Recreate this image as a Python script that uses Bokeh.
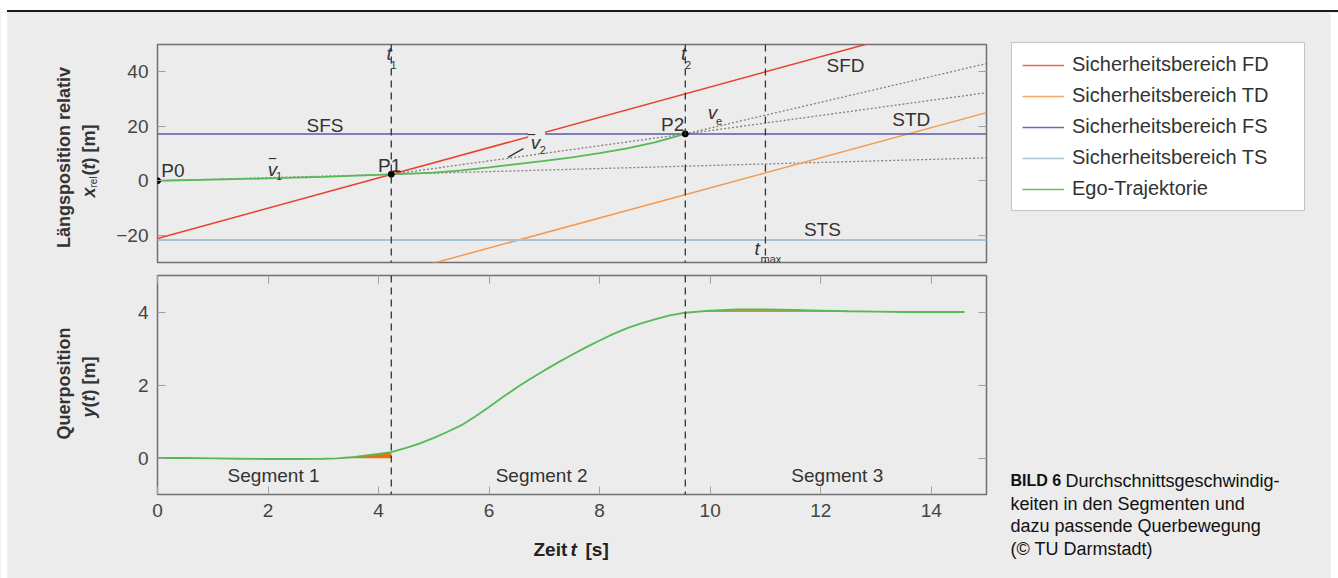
import math
from bokeh.plotting import figure
from bokeh.models import Label, Span, Legend, LegendItem, LinearAxis, FixedTicker, Range1d, Div
from bokeh.layouts import column, row
from bokeh.embed import file_html
from bokeh.resources import INLINE

# ---------------- data ----------------
t_bounds = [0, 15]
fd_x = [-21.2, 62.2]          # Sicherheitsbereich FD
td_x = [-57.8, 25.0]          # Sicherheitsbereich TD
fs_x = [17.2, 17.2]           # Sicherheitsbereich FS
ts_x = [-21.7, -21.7]         # Sicherheitsbereich TS

ego_t = [0, 1, 2, 3, 4.23, 5, 5.5, 6, 6.5, 7, 7.5, 8, 8.5, 9, 9.55]
ego_x = [0, 0.4, 0.85, 1.45, 2.37, 3.0, 3.8, 4.9, 6.1, 7.3, 8.6, 10.1, 11.9, 14.1, 17.2]

pts_t = [0, 4.23, 9.55]
pts_x = [0, 2.37, 17.2]

v1_t = [0, 15];     v1_x = [0, 8.4]
v2_t = [4.23, 15];  v2_x = [2.37, 32.3]
ve_t = [9.55, 15];  ve_x = [17.2, 43.0]

t1, t2, tmax = 4.23, 9.55, 11.0

lat_t = [0, 0.5, 1, 1.5, 2, 2.5, 3, 3.25, 3.5, 3.75, 4, 4.23, 4.5, 4.75, 5, 5.25, 5.5, 5.75, 6, 6.25,
         6.5, 6.75, 7, 7.25, 7.5, 7.75, 8, 8.25, 8.5, 8.75, 9, 9.25, 9.55,
         10, 10.5, 11, 11.5, 12, 12.5, 13, 13.5, 14, 14.6]
lat_y = [0, 0, -0.01, -0.02, -0.03, -0.03, -0.02, -0.01, 0.02, 0.065, 0.11, 0.16, 0.28, 0.4, 0.55, 0.72,
         0.9, 1.14, 1.4, 1.67, 1.93, 2.17, 2.4, 2.62, 2.83, 3.03, 3.22, 3.4, 3.56, 3.69,
         3.8, 3.9, 3.98, 4.04, 4.07, 4.07, 4.06, 4.04, 4.02, 4.01, 4.0, 4.0, 4.0]
lat_target = 4.0

x_ticks = [0, 2, 4, 6, 8, 10, 12, 14]
y_ticks_top = [-20, 0, 20, 40]
y_ticks_bot = [0, 2, 4]

legend_labels = ["Sicherheitsbereich FD", "Sicherheitsbereich TD", "Sicherheitsbereich FS",
                 "Sicherheitsbereich TS", "Ego-Trajektorie"]
caption = ["keiten in den Segmenten und", "dazu passende Querbewegung", "(\u00a9 TU Darmstadt)"]

# ---------------- style ----------------
BG = "#ececec"
FONT = "Liberation Sans"
TXT = "#333333"
C_FD, C_TD, C_FS, C_TS, C_EGO = "#e8402e", "#f39a50", "#5a5aaa", "#a8c4d4", "#55b955"
LEG_COLORS = ["#f06850", "#f5a66a", "#6a6ab8", "#a9c6d6", "#6cbf5c"]
H_ALL = 566


def style_axis(ax, labels=True):
    ax.axis_line_color = None
    ax.major_tick_in = 8
    ax.major_tick_out = 0
    ax.minor_tick_line_color = None
    ax.major_tick_line_color = "#a0a0a0"
    if labels:
        ax.major_label_text_font = FONT
        ax.major_label_text_font_size = "19px"
        ax.major_label_text_color = "#444444"
        ax.major_label_standoff = 9
    else:
        ax.major_label_text_font_size = "1px"
        ax.major_label_text_color = None
        ax.major_label_standoff = 0


def lab(p, x, y, text, size=19, style="normal", align="center", baseline="middle",
        units="data", angle=0.0, bg=None, color=TXT, font=FONT):
    l = Label(x=x, y=y, text=text, x_units=units, y_units=units, angle=angle,
              text_font=font, text_font_size=f"{size}px", text_font_style=style,
              text_align=align, text_baseline=baseline, text_color=color)
    if bg is not None:
        l.background_fill_color = bg
        l.background_fill_alpha = 1.0
    p.add_layout(l)
    return l


def canvas(width, height, l=0, r=0, border="white", xr=(0, 1), yr=(0, 1)):
    c = figure(width=width, height=height, toolbar_location=None, output_backend="svg",
               x_range=Range1d(*xr), y_range=Range1d(*yr),
               x_axis_location=None, y_axis_location=None,
               background_fill_color=BG, border_fill_color=border, outline_line_color=None,
               min_border_left=l, min_border_right=r, min_border_top=0, min_border_bottom=0)
    c.grid.visible = False
    return c


# ---------------- header line ----------------
hdr = Div(width=1338, height=12, margin=0,
          text='<div style="display:block;width:1338px;height:8px"></div>'
               '<div style="display:block;margin-left:7px;width:1331px;height:2px;'
               'background-color:#1a1a1a"></div>')

# ---------------- left label column ----------------
left = canvas(100, H_ALL, l=7)
rot = math.pi / 2
lab(left, 56, 421, "L\u00e4ngsposition relativ", size=18, style="bold", units="screen", angle=rot)
lab(left, 81, 381, "x", size=18, style="bold italic", units="screen", angle=rot, align="left")
lab(left, 86, 391, "rel", size=10, units="screen", angle=rot, align="left")
lab(left, 81, 403, "(", size=18, style="bold", units="screen", angle=rot, align="left")
lab(left, 81, 409, "t", size=18, style="bold italic", units="screen", angle=rot, align="left")
lab(left, 81, 415, ") [m]", size=18, style="bold", units="screen", angle=rot, align="left")
lab(left, 56, 195, "Querposition", size=18, style="bold", units="screen", angle=rot)
lab(left, 81, 161, "y", size=18, style="bold italic", units="screen", angle=rot, align="left")
lab(left, 81, 171, "(", size=18, style="bold", units="screen", angle=rot, align="left")
lab(left, 81, 177, "t", size=18, style="bold italic", units="screen", angle=rot, align="left")
lab(left, 81, 183, ") [m]", size=18, style="bold", units="screen", angle=rot, align="left")

# ---------------- top plot ----------------
top = figure(width=900, height=258, toolbar_location=None, output_backend="svg",
             x_range=Range1d(0, 15), y_range=Range1d(-30, 50),
             x_axis_location=None,
             min_border_left=57, min_border_right=14, min_border_top=32, min_border_bottom=8,
             background_fill_color=BG, border_fill_color=BG,
             outline_line_color="#707070", outline_line_width=1.5)
top.grid.visible = False
top.yaxis.ticker = FixedTicker(ticks=y_ticks_top)
top.yaxis.major_label_overrides = {-20: "\u221220"}
style_axis(top.yaxis[0])
ra = LinearAxis(ticker=FixedTicker(ticks=y_ticks_top))
style_axis(ra, labels=False)
top.add_layout(ra, "right")

for d in (t1, t2, tmax):
    top.add_layout(Span(location=d, dimension="height", line_color="#333333",
                        line_dash="7 5", line_width=1.3))

dot = dict(line_color="#808080", line_dash="2 2", line_width=1.3)
top.line(v1_t, v1_x, **dot)
top.line(v2_t, v2_x, **dot)
top.line(ve_t, ve_x, **dot)

top.line(t_bounds, fd_x, line_color=C_FD, line_width=1.5)
top.line(t_bounds, td_x, line_color=C_TD, line_width=1.5)
top.line(t_bounds, fs_x, line_color=C_FS, line_width=1.5)
top.line(t_bounds, ts_x, line_color=C_TS, line_width=2)
top.line(ego_t, ego_x, line_color=C_EGO, line_width=1.8)
top.scatter(pts_t, pts_x, size=6, color="black")

lab(top, 3.03, 20.4, "SFS")
lab(top, 12.45, 42.2, "SFD")
lab(top, 13.64, 22.6, "STD")
lab(top, 12.03, -18.0, "STS")
lab(top, 0.07, 3.7, "P0", align="left")
lab(top, 4.2, 5.7, "P1")
lab(top, 9.32, 20.6, "P2")
lab(top, 4.19, 46.8, "t", style="italic")
lab(top, 4.27, 42.6, "1", size=11)
lab(top, 9.52, 46.8, "t", style="italic")
lab(top, 9.60, 42.6, "2", size=11)
lab(top, 10.85, -25.0, "t", style="italic")
lab(top, 11.1, -28.6, "max", size=11)
lab(top, 10.04, 25.0, "v", style="italic")
lab(top, 10.16, 21.8, "e", size=11)
lab(top, 2.08, 5.1, "\u203e")
lab(top, 2.08, 4.3, "v", style="italic")
lab(top, 2.2, 1.8, "1", size=11)
lab(top, 6.86, 14.1, " \u203e ", bg=BG)
lab(top, 6.84, 14.2, "v", style="italic")
lab(top, 6.97, 11.2, "2", size=11)
top.line([6.34, 6.62], [8.6, 11.8], line_color="#333333", line_width=1.3)

# ---------------- bottom plot ----------------
bot = figure(width=900, height=260, toolbar_location=None, output_backend="svg",
             x_range=Range1d(0, 15), y_range=Range1d(-1, 5),
             min_border_left=57, min_border_right=14, min_border_top=5, min_border_bottom=36,
             background_fill_color=BG, border_fill_color=BG,
             outline_line_color="#707070", outline_line_width=1.5)
bot.grid.visible = False
bot.xaxis.ticker = FixedTicker(ticks=x_ticks)
bot.yaxis.ticker = FixedTicker(ticks=y_ticks_bot)
style_axis(bot.xaxis[0])
style_axis(bot.yaxis[0])
ax_top = LinearAxis(ticker=FixedTicker(ticks=x_ticks))
style_axis(ax_top, labels=False)
bot.add_layout(ax_top, "above")
ax_r = LinearAxis(ticker=FixedTicker(ticks=y_ticks_bot))
style_axis(ax_r, labels=False)
bot.add_layout(ax_r, "right")

for d in (t1, t2):
    bot.add_layout(Span(location=d, dimension="height", line_color="#333333",
                        line_dash="7 5", line_width=1.3))

g_idx = [i for i, t in enumerate(lat_t) if 1.0 <= t <= 3.4]
o_idx = [i for i, t in enumerate(lat_t) if 3.25 <= t <= t1]
s_idx = [i for i, t in enumerate(lat_t) if t2 <= t <= 13.0]
bot.varea(x=[lat_t[i] for i in g_idx], y1=[0] * len(g_idx), y2=[lat_y[i] for i in g_idx],
          fill_color="#2f9f3f", fill_alpha=0.9)
bot.varea(x=[lat_t[i] for i in o_idx], y1=[-0.01] * len(o_idx), y2=[lat_y[i] for i in o_idx],
          fill_color="#e8720c")
bot.varea(x=[lat_t[i] for i in s_idx], y1=[lat_target] * len(s_idx), y2=[lat_y[i] for i in s_idx],
          fill_color="#c09a3c")
bot.line(lat_t, lat_y, line_color=C_EGO, line_width=1.8)

lab(bot, 2.1, -0.48, "Segment 1")
lab(bot, 6.95, -0.48, "Segment 2")
lab(bot, 12.3, -0.48, "Segment 3")

# ---------------- x axis title strip (frame aligned with plots above) ----------------
xlab = canvas(900, 48, border=BG)
lab(xlab, 376, 29, "Zeit", size=19, style="bold", units="screen", align="left", color="#222222")
lab(xlab, 413, 29, "t", size=19, style="bold italic", units="screen", align="left", color="#222222")
lab(xlab, 428, 29, "[s]", size=19, style="bold", units="screen", align="left", color="#222222")

# ---------------- right column: legend + caption ----------------
right = canvas(338, H_ALL, r=8, xr=(100, 101), yr=(100, 101))
leg_data = [fd_x, td_x, fs_x, ts_x, [0, 0]]
leg_r = [right.line(t_bounds, d, line_color=c, line_width=1.5) for d, c in zip(leg_data, LEG_COLORS)]
legend = Legend(items=[LegendItem(label=t, renderers=[r]) for t, r in zip(legend_labels, leg_r)],
                location=(11, 367), orientation="vertical",
                label_text_font=FONT, label_text_font_size="20px", label_text_color=TXT,
                glyph_width=42, glyph_height=20, label_height=20, label_width=222,
                label_standoff=8, spacing=8, padding=10, margin=0,
                border_line_color="#8a8a8a", border_line_width=1.5,
                background_fill_color="white", background_fill_alpha=1.0)
right.add_layout(legend)

lab(right, 10, 98, "BILD 6", size=16, style="bold", units="screen", align="left", color="#111111")
lab(right, 65, 98, "Durchschnittsgeschwindig-", size=18, units="screen", align="left", color="#111111")
for k, line in enumerate(caption):
    lab(right, 10, 75 - 22.5 * k, line, size=18, units="screen", align="left", color="#111111")

mid = column(top, bot, xlab, styles={"background-color": BG})
body = row(left, mid, right, styles={"background-color": BG})
layout = column(hdr, body)
open("out.html", "w").write(file_html(layout, INLINE))
